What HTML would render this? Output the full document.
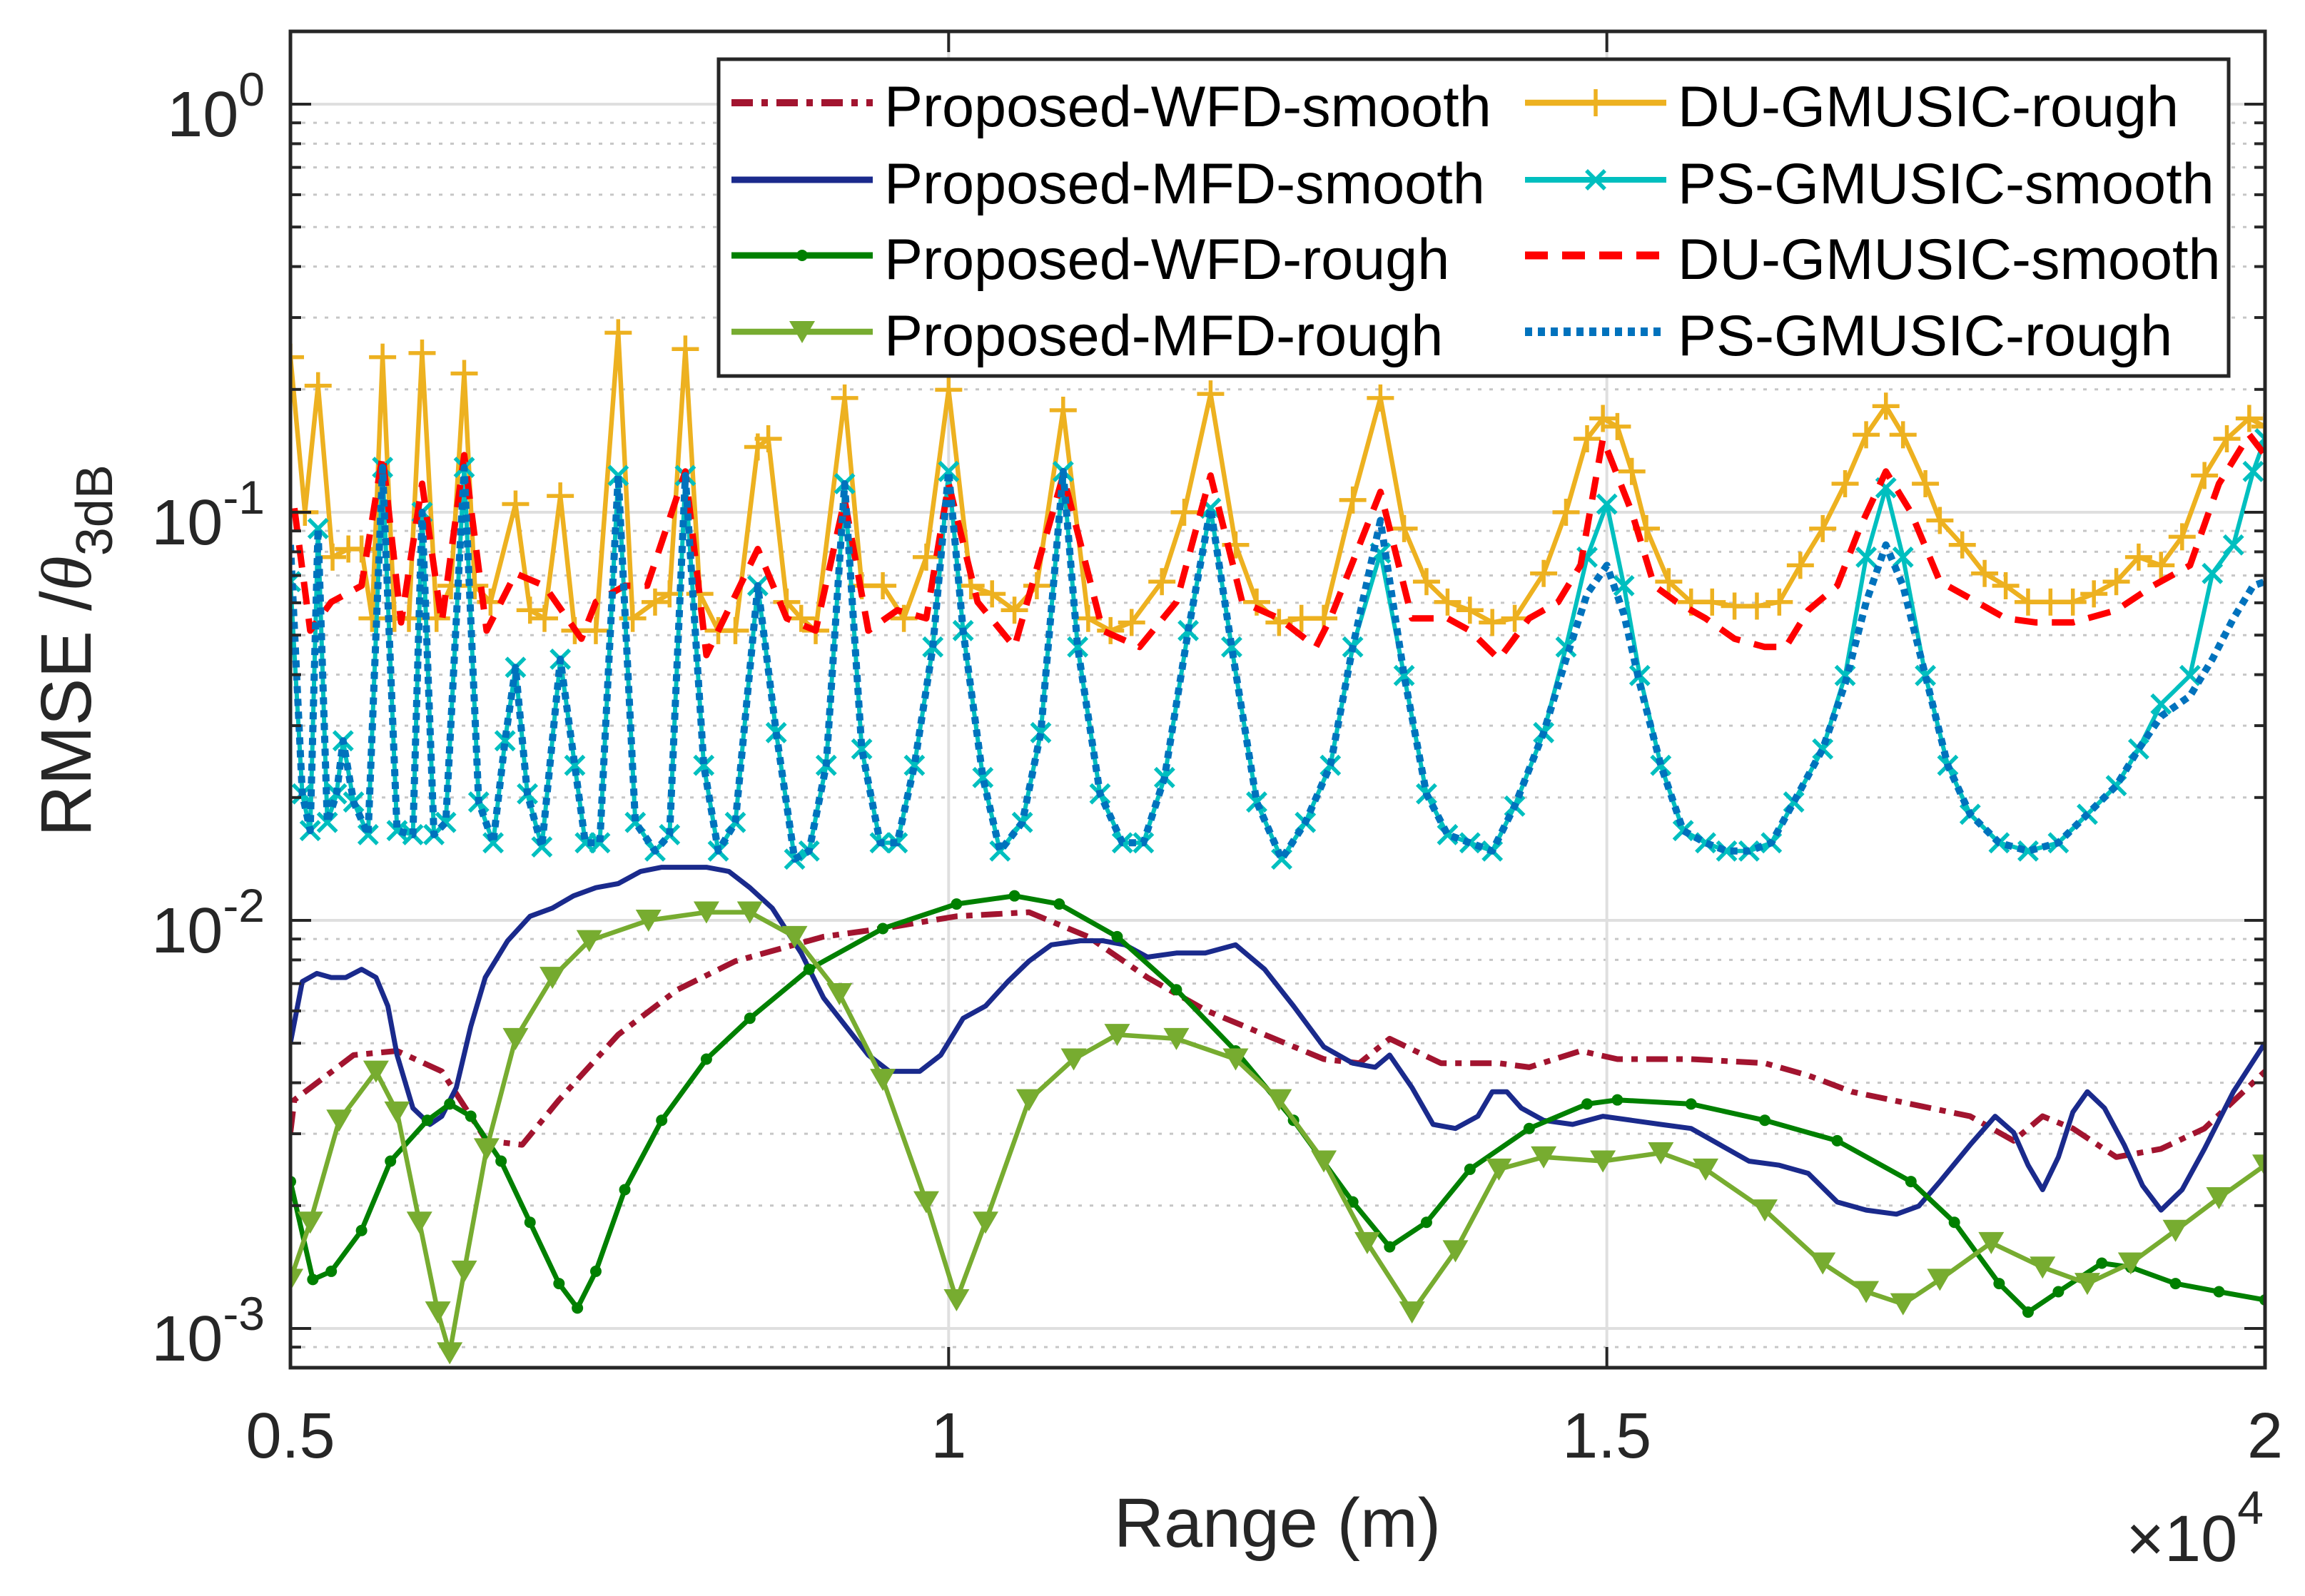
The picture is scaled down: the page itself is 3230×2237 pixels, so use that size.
<!DOCTYPE html>
<html><head><meta charset="utf-8"><title>RMSE vs Range</title>
<style>
html,body{margin:0;padding:0;background:#fff;}
svg{display:block;font-family:"Liberation Sans",Arial,sans-serif;}
</style></head>
<body>
<svg id="chart" xmlns="http://www.w3.org/2000/svg" width="3230" height="2237" viewBox="0 0 3230 2237">
<rect x="0" y="0" width="3230" height="2237" fill="#fff"/>
<g id="grid"></g>
<g id="series"></g>
<g id="axes"></g>
<g id="legend"></g>
<text x="1790" y="2168" font-size="97" fill="#262626" text-anchor="middle">Range (m)</text>
<text x="3172" y="2188" font-size="92" fill="#262626" text-anchor="end">×10<tspan font-size="66" dy="-52">4</tspan></text>
<text transform="translate(127,912) rotate(-90)" font-size="100" fill="#262626" text-anchor="middle">RMSE /<tspan font-style="italic" font-family="'Liberation Serif',serif">θ</tspan><tspan font-size="72" dy="30">3dB</tspan></text>
</svg>
<script>
// ---- data: range in units of 1e4 m, RMSE as log10 values ----
const xTicks = [0.5, 1, 1.5, 2];
const xTickLabels = ["0.5", "1", "1.5", "2"];
const yDecades = [0, -1, -2, -3];
const yTickLabels = ["10", "10", "10", "10"];
const yTickExps = ["0", "-1", "-2", "-3"];
const seriesNames = ["Proposed-WFD-smooth","Proposed-MFD-smooth","Proposed-WFD-rough","Proposed-MFD-rough","DU-GMUSIC-rough","PS-GMUSIC-smooth","DU-GMUSIC-smooth","PS-GMUSIC-rough"];

const wfdSmoothR = [0.500,0.503,0.548,0.581,0.615,0.649,0.676,0.704,0.749,0.794,0.838,0.905,0.950,1.006,1.061,1.106,1.151,1.195,1.240,1.285,1.312,1.335,1.374,1.418,1.441,1.480,1.508,1.564,1.620,1.653,1.686,1.731,1.776,1.809,1.831,1.854,1.887,1.921,1.954,2.000];
const wfdSmoothL = [-2.52,-2.44,-2.33,-2.32,-2.37,-2.54,-2.55,-2.44,-2.28,-2.17,-2.10,-2.04,-2.02,-1.99,-1.98,-2.04,-2.14,-2.22,-2.28,-2.34,-2.35,-2.29,-2.35,-2.35,-2.36,-2.32,-2.34,-2.34,-2.35,-2.38,-2.42,-2.45,-2.48,-2.54,-2.48,-2.51,-2.58,-2.56,-2.51,-2.37];

const mfdSmoothR = [0.500,0.509,0.520,0.531,0.542,0.554,0.565,0.574,0.581,0.593,0.606,0.615,0.626,0.637,0.648,0.665,0.682,0.699,0.715,0.732,0.749,0.766,0.782,0.799,0.816,0.833,0.849,0.866,0.888,0.905,0.922,0.939,0.955,0.978,0.994,1.011,1.028,1.045,1.061,1.078,1.100,1.117,1.134,1.151,1.173,1.195,1.218,1.240,1.262,1.285,1.307,1.324,1.335,1.352,1.368,1.385,1.402,1.413,1.424,1.435,1.452,1.474,1.497,1.519,1.541,1.564,1.586,1.608,1.631,1.653,1.675,1.697,1.720,1.737,1.753,1.776,1.795,1.809,1.820,1.831,1.843,1.854,1.865,1.878,1.893,1.907,1.921,1.937,1.954,1.976,2.000];
const mfdSmoothL = [-2.30,-2.15,-2.13,-2.14,-2.14,-2.12,-2.14,-2.21,-2.33,-2.46,-2.50,-2.48,-2.41,-2.26,-2.14,-2.05,-1.99,-1.97,-1.94,-1.92,-1.91,-1.88,-1.87,-1.87,-1.87,-1.88,-1.92,-1.97,-2.08,-2.19,-2.26,-2.33,-2.37,-2.37,-2.33,-2.24,-2.21,-2.15,-2.10,-2.06,-2.05,-2.05,-2.06,-2.09,-2.08,-2.08,-2.06,-2.12,-2.21,-2.31,-2.35,-2.36,-2.33,-2.41,-2.50,-2.51,-2.48,-2.42,-2.42,-2.46,-2.49,-2.50,-2.48,-2.49,-2.50,-2.51,-2.55,-2.59,-2.60,-2.62,-2.69,-2.71,-2.72,-2.70,-2.64,-2.55,-2.48,-2.52,-2.60,-2.66,-2.58,-2.47,-2.42,-2.46,-2.55,-2.65,-2.71,-2.66,-2.56,-2.42,-2.30];

const wfdRoughR = [0.500,0.517,0.531,0.554,0.576,0.604,0.621,0.637,0.660,0.682,0.704,0.718,0.732,0.754,0.782,0.816,0.849,0.894,0.950,1.006,1.050,1.084,1.128,1.173,1.218,1.262,1.307,1.335,1.363,1.396,1.441,1.485,1.508,1.564,1.620,1.675,1.731,1.764,1.798,1.820,1.843,1.876,1.898,1.932,1.965,2.000];
const wfdRoughL = [-2.64,-2.88,-2.86,-2.76,-2.59,-2.49,-2.45,-2.48,-2.59,-2.74,-2.89,-2.95,-2.86,-2.66,-2.49,-2.34,-2.24,-2.12,-2.02,-1.96,-1.94,-1.96,-2.04,-2.17,-2.32,-2.49,-2.69,-2.80,-2.74,-2.61,-2.51,-2.45,-2.44,-2.45,-2.49,-2.54,-2.64,-2.74,-2.89,-2.96,-2.91,-2.84,-2.85,-2.89,-2.91,-2.93];

const mfdRoughR = [0.500,0.515,0.537,0.565,0.581,0.598,0.612,0.621,0.632,0.649,0.671,0.699,0.727,0.772,0.816,0.849,0.883,0.917,0.950,0.983,1.006,1.028,1.061,1.095,1.128,1.173,1.218,1.251,1.285,1.318,1.352,1.385,1.418,1.452,1.497,1.541,1.575,1.620,1.664,1.697,1.725,1.753,1.792,1.831,1.865,1.898,1.932,1.965,2.000];
const mfdRoughL = [-2.88,-2.74,-2.49,-2.37,-2.47,-2.74,-2.96,-3.06,-2.86,-2.56,-2.29,-2.14,-2.05,-2.00,-1.98,-1.98,-2.04,-2.18,-2.39,-2.69,-2.93,-2.74,-2.44,-2.34,-2.28,-2.29,-2.34,-2.44,-2.59,-2.79,-2.96,-2.81,-2.61,-2.58,-2.59,-2.57,-2.61,-2.71,-2.84,-2.91,-2.94,-2.88,-2.79,-2.85,-2.89,-2.84,-2.76,-2.68,-2.60];

const duRoughR = [0.500,0.511,0.521,0.532,0.544,0.554,0.562,0.570,0.579,0.590,0.600,0.611,0.622,0.632,0.640,0.652,0.671,0.682,0.693,0.705,0.716,0.732,0.749,0.760,0.777,0.788,0.800,0.811,0.825,0.838,0.855,0.863,0.877,0.888,0.899,0.921,0.934,0.950,0.966,0.983,1.000,1.017,1.033,1.050,1.067,1.087,1.106,1.123,1.139,1.162,1.179,1.199,1.218,1.234,1.251,1.268,1.285,1.307,1.328,1.346,1.363,1.379,1.396,1.413,1.430,1.452,1.469,1.485,1.497,1.508,1.519,1.530,1.547,1.564,1.580,1.597,1.614,1.631,1.647,1.664,1.681,1.697,1.712,1.725,1.742,1.753,1.770,1.787,1.803,1.820,1.837,1.854,1.870,1.887,1.904,1.921,1.937,1.954,1.971,1.988,2.000];
const duRoughL = [-0.62,-1.00,-0.69,-1.11,-1.09,-1.09,-1.26,-0.62,-1.26,-1.26,-0.61,-1.26,-1.18,-0.66,-1.18,-1.22,-0.98,-1.24,-1.26,-0.96,-1.29,-1.29,-0.56,-1.26,-1.22,-1.20,-0.60,-1.20,-1.29,-1.29,-0.84,-0.82,-1.22,-1.26,-1.29,-0.72,-1.18,-1.18,-1.26,-1.11,-0.70,-1.18,-1.20,-1.24,-1.18,-0.75,-1.26,-1.29,-1.27,-1.17,-1.00,-0.71,-1.08,-1.22,-1.27,-1.26,-1.26,-0.97,-0.72,-1.04,-1.17,-1.22,-1.24,-1.27,-1.26,-1.15,-1.00,-0.82,-0.77,-0.79,-0.90,-1.04,-1.17,-1.22,-1.22,-1.23,-1.23,-1.22,-1.13,-1.04,-0.93,-0.81,-0.74,-0.81,-0.93,-1.02,-1.08,-1.15,-1.18,-1.22,-1.22,-1.22,-1.20,-1.17,-1.11,-1.13,-1.06,-0.91,-0.82,-0.77,-0.79];

const psSmoothR = [0.500,0.509,0.515,0.521,0.528,0.535,0.540,0.548,0.559,0.570,0.581,0.593,0.600,0.609,0.618,0.632,0.643,0.654,0.663,0.671,0.680,0.691,0.705,0.716,0.724,0.735,0.749,0.762,0.777,0.788,0.800,0.814,0.825,0.838,0.855,0.869,0.883,0.894,0.907,0.921,0.934,0.948,0.961,0.974,0.988,1.000,1.011,1.026,1.039,1.056,1.070,1.087,1.098,1.115,1.132,1.148,1.164,1.182,1.199,1.215,1.234,1.253,1.271,1.290,1.307,1.328,1.346,1.363,1.379,1.396,1.413,1.430,1.452,1.469,1.485,1.500,1.513,1.525,1.541,1.558,1.575,1.591,1.608,1.625,1.642,1.664,1.681,1.697,1.712,1.725,1.742,1.759,1.776,1.798,1.820,1.843,1.865,1.887,1.904,1.921,1.943,1.960,1.976,1.991,2.000];
const psSmoothL = [-1.17,-1.69,-1.78,-1.04,-1.76,-1.69,-1.56,-1.71,-1.79,-0.89,-1.78,-1.79,-1.00,-1.79,-1.76,-0.89,-1.71,-1.81,-1.56,-1.38,-1.69,-1.82,-1.36,-1.62,-1.81,-1.81,-0.91,-1.76,-1.83,-1.79,-0.91,-1.62,-1.83,-1.76,-1.18,-1.54,-1.85,-1.83,-1.62,-0.93,-1.58,-1.81,-1.81,-1.62,-1.33,-0.90,-1.29,-1.65,-1.83,-1.76,-1.54,-0.90,-1.33,-1.69,-1.81,-1.81,-1.65,-1.29,-0.99,-1.33,-1.71,-1.85,-1.76,-1.62,-1.33,-1.10,-1.40,-1.69,-1.79,-1.81,-1.83,-1.72,-1.54,-1.33,-1.11,-0.98,-1.18,-1.40,-1.62,-1.78,-1.81,-1.83,-1.83,-1.81,-1.71,-1.58,-1.40,-1.11,-0.94,-1.11,-1.40,-1.62,-1.74,-1.81,-1.83,-1.81,-1.74,-1.67,-1.58,-1.47,-1.40,-1.15,-1.08,-0.90,-0.82];

const duSmoothR = [0.503,0.515,0.531,0.554,0.570,0.584,0.600,0.615,0.632,0.649,0.671,0.693,0.721,0.732,0.754,0.771,0.800,0.816,0.855,0.877,0.899,0.921,0.939,0.961,0.983,1.000,1.022,1.050,1.087,1.117,1.145,1.173,1.199,1.223,1.251,1.279,1.290,1.328,1.352,1.379,1.396,1.418,1.441,1.463,1.480,1.497,1.519,1.536,1.553,1.575,1.597,1.620,1.636,1.653,1.675,1.692,1.712,1.731,1.753,1.781,1.803,1.826,1.854,1.887,1.915,1.943,1.965,1.988,2.000];
const duSmoothL = [-0.99,-1.29,-1.22,-1.18,-0.86,-1.27,-0.93,-1.27,-0.86,-1.29,-1.15,-1.18,-1.31,-1.22,-1.18,-1.18,-0.90,-1.35,-1.09,-1.26,-1.29,-0.97,-1.29,-1.24,-1.26,-0.93,-1.22,-1.33,-0.91,-1.29,-1.33,-1.22,-0.91,-1.22,-1.26,-1.33,-1.26,-0.95,-1.26,-1.26,-1.29,-1.36,-1.26,-1.22,-1.13,-0.82,-1.00,-1.18,-1.22,-1.26,-1.31,-1.33,-1.33,-1.24,-1.18,-1.04,-0.90,-1.00,-1.17,-1.22,-1.26,-1.27,-1.27,-1.24,-1.18,-1.13,-0.93,-0.81,-0.86];

const psRoughR = [0.500,0.509,0.515,0.521,0.528,0.535,0.540,0.548,0.559,0.570,0.581,0.593,0.600,0.609,0.618,0.632,0.643,0.654,0.663,0.671,0.680,0.691,0.705,0.716,0.724,0.735,0.749,0.762,0.777,0.788,0.800,0.814,0.825,0.838,0.855,0.869,0.883,0.894,0.907,0.921,0.934,0.948,0.961,0.974,0.988,1.000,1.011,1.026,1.039,1.056,1.070,1.087,1.098,1.115,1.132,1.148,1.164,1.182,1.199,1.215,1.234,1.253,1.271,1.290,1.307,1.328,1.346,1.363,1.379,1.396,1.413,1.430,1.452,1.469,1.485,1.500,1.513,1.525,1.541,1.558,1.575,1.591,1.608,1.625,1.642,1.664,1.681,1.697,1.712,1.725,1.742,1.759,1.776,1.798,1.820,1.843,1.865,1.887,1.904,1.921,1.943,1.960,1.976,1.991,2.000];
const psRoughL = [-1.08,-1.69,-1.78,-1.04,-1.76,-1.69,-1.56,-1.71,-1.79,-0.89,-1.78,-1.79,-1.00,-1.79,-1.76,-0.89,-1.71,-1.81,-1.56,-1.38,-1.69,-1.82,-1.36,-1.62,-1.81,-1.81,-0.91,-1.76,-1.83,-1.79,-0.91,-1.62,-1.83,-1.76,-1.18,-1.54,-1.85,-1.83,-1.62,-0.93,-1.58,-1.81,-1.81,-1.62,-1.33,-0.90,-1.29,-1.65,-1.83,-1.76,-1.54,-0.90,-1.33,-1.69,-1.81,-1.81,-1.65,-1.29,-0.99,-1.33,-1.71,-1.85,-1.76,-1.62,-1.33,-1.02,-1.40,-1.69,-1.79,-1.81,-1.83,-1.72,-1.54,-1.36,-1.20,-1.13,-1.25,-1.42,-1.62,-1.78,-1.81,-1.83,-1.83,-1.81,-1.71,-1.58,-1.42,-1.22,-1.08,-1.18,-1.40,-1.62,-1.74,-1.81,-1.83,-1.81,-1.74,-1.67,-1.58,-1.50,-1.45,-1.36,-1.26,-1.18,-1.17];

// ---- layout ----
const NS = "http://www.w3.org/2000/svg";
const PL = 407, PR = 3174, PT = 44, PB = 1917;
const X_MIN = 0.5, X_MAX = 2.0;
const DEC = 572, Y0 = 146;
function xs(r){ return PL + (r - X_MIN) / (X_MAX - X_MIN) * (PR - PL); }
function ys(l){ return Y0 - l * DEC; }
function mk(tag, attrs, parent){
  const e = document.createElementNS(NS, tag);
  for (const k in attrs) e.setAttribute(k, attrs[k]);
  parent.appendChild(e);
  return e;
}
const grid = document.getElementById('grid');
const axes = document.getElementById('axes');
const seriesG = document.getElementById('series');
const legend = document.getElementById('legend');

// grid lines
for (const d of yDecades) {
  const y = ys(d);
  const g = mk('line', {x1:PL, x2:PR, y1:y, y2:y, stroke:'#dfdfdf', 'stroke-width':4}, grid);
  
  
}
for (const d of [1, 0, -1, -2, -3]) {
  for (let m = 2; m <= 9; m++) {
    const yy = ys(d - 1 + Math.log10(m));
    if (yy < PT || yy > PB) continue;
    const gm = mk('line', {x1:PL, x2:PR, y1:yy, y2:yy, stroke:'#c6c6c6', 'stroke-width':3, 'stroke-dasharray':'5 11'}, grid);
    
    
  }
}
for (const t of xTicks) {
  const x = xs(t);
  const g = mk('line', {x1:x, x2:x, y1:PT, y2:PB, stroke:'#dfdfdf', 'stroke-width':4}, grid);
  
  
}

// series
function pts(R, L){ return R.map((r,i)=> xs(r).toFixed(1)+','+ys(L[i]).toFixed(1)).join(' '); }
function drawMarker(type, x, y, color, parent){
  let e;
  if (type === 'plus') {
    e = mk('path', {d:`M${x-19},${y}H${x+19}M${x},${y-19}V${y+19}`, stroke:color, 'stroke-width':5.5, fill:'none'}, parent);
  } else if (type === 'cross') {
    e = mk('path', {d:`M${x-13},${y-13}L${x+13},${y+13}M${x-13},${y+13}L${x+13},${y-13}`, stroke:color, 'stroke-width':5.5, fill:'none'}, parent);
  } else if (type === 'dot') {
    e = mk('circle', {cx:x, cy:y, r:8, fill:color}, parent);
  } else if (type === 'tri') {
    e = mk('path', {d:`M${x-18},${y-15}L${x+18},${y-15}L${x},${y+16}Z`, fill:color}, parent);
  }
  return e;
}
const seriesDefs = [
  {R:wfdSmoothR, L:wfdSmoothL, color:'#A2142F', w:8, dash:'30 12 9 12', marker:null, name:'proposed-wfd-smooth'},
  {R:mfdSmoothR, L:mfdSmoothL, color:'#1A2A8C', w:7, dash:null, marker:null, name:'proposed-mfd-smooth'},
  {R:wfdRoughR, L:wfdRoughL, color:'#008000', w:7, dash:null, marker:'dot', name:'proposed-wfd-rough'},
  {R:mfdRoughR, L:mfdRoughL, color:'#77AC30', w:6.5, dash:null, marker:'tri', name:'proposed-mfd-rough'},
  {R:duRoughR, L:duRoughL, color:'#EDB120', w:6.5, dash:null, marker:'plus', name:'du-gmusic-rough'},
  {R:psSmoothR, L:psSmoothL, color:'#00BFBF', w:6, dash:null, marker:'cross', name:'ps-gmusic-smooth'},
  {R:duSmoothR, L:duSmoothL, color:'#FF0000', w:9, dash:'32 20', marker:null, name:'du-gmusic-smooth'},
  {R:psRoughR, L:psRoughL, color:'#0072BD', w:10, dash:'10 8', marker:null, name:'ps-gmusic-rough'}
];
const clip = mk('clipPath', {id:'plotclip'}, seriesG);
mk('rect', {x:PL, y:PT, width:PR-PL, height:PB-PT}, clip);
for (const s of seriesDefs) {
  const g = mk('g', {'clip-path':'url(#plotclip)'}, seriesG);
  
  
  const a = {points:pts(s.R, s.L), fill:'none', stroke:s.color, 'stroke-width':s.w, 'stroke-linejoin':'round'};
  if (s.dash) a['stroke-dasharray'] = s.dash;
  const pl = mk('polyline', a, g);
  
  
  if (s.marker) {
    s.R.forEach((r,i)=>{
      const m = drawMarker(s.marker, xs(r), ys(s.L[i]), s.color, g);
      
      
    });
  }
}

// axes box and ticks
const box = mk('rect', {x:PL, y:PT, width:PR-PL, height:PB-PT, fill:'none', stroke:'#262626', 'stroke-width':5}, axes);


for (let i = 0; i < xTicks.length; i++) {
  const x = xs(xTicks[i]);
  const t1 = mk('line', {x1:x, x2:x, y1:PB, y2:PB-29, stroke:'#262626', 'stroke-width':4}, axes);
  
  
  const t2 = mk('line', {x1:x, x2:x, y1:PT, y2:PT+29, stroke:'#262626', 'stroke-width':4}, axes);
  
  
  const lb = mk('text', {x:x, y:2043, 'font-size':90, fill:'#262626', 'text-anchor':'middle'}, axes);
  lb.textContent = xTickLabels[i];
  
  
}
const yTickVals = [];
for (const d of [1,0,-1,-2,-3]) for (let m = 1; m <= 9; m++) yTickVals.push([d - 1 + Math.log10(m), m === 1]);
for (const [l, major] of yTickVals) {
  const y = ys(l);
  if (y < PT || y > PB) continue;
  const len = major ? 29 : 15;
  const a = mk('line', {x1:PL, x2:PL+len, y1:y, y2:y, stroke:'#262626', 'stroke-width':4}, axes);
  
  
  const b = mk('line', {x1:PR, x2:PR-len, y1:y, y2:y, stroke:'#262626', 'stroke-width':4}, axes);
  
  
}
for (let i = 0; i < yDecades.length; i++) {
  const y = ys(yDecades[i]);
  const t = mk('text', {x:371, y:y+45, 'font-size':90, fill:'#262626', 'text-anchor':'end'}, axes);
  
  
  t.appendChild(document.createTextNode(yTickLabels[i]));
  const sp = document.createElementNS(NS, 'tspan');
  sp.setAttribute('font-size', '66');
  sp.setAttribute('dy', '-43');
  sp.textContent = yTickExps[i];
  t.appendChild(sp);
}

// legend
const lg = mk('rect', {x:1007, y:83, width:2116, height:444, fill:'#fff', stroke:'#262626', 'stroke-width':5}, legend);


const rowsY = [144, 252, 358, 465];
seriesDefs.forEach((s, k) => {
  const col = k < 4 ? 0 : 1;
  const y = rowsY[k % 4];
  const x0 = col === 0 ? 1025 : 2137, x1 = x0 + 198;
  const g = mk('g', {}, legend);
  
  
  const a = {x1:x0, x2:x1, y1:y, y2:y, stroke:s.color, 'stroke-width':s.w+2};
  if (s.dash) a['stroke-dasharray'] = s.dash;
  const ln = mk('line', a, g);
  
  
  if (s.marker) {
    const m = drawMarker(s.marker, (x0+x1)/2, y, s.color, g);
    
    
  }
  const t = mk('text', {x:x1+16, y:y+33, 'font-size':81, fill:'#000'}, g);
  t.textContent = seriesNames[k];
  
  
});
</script>
</body></html>
